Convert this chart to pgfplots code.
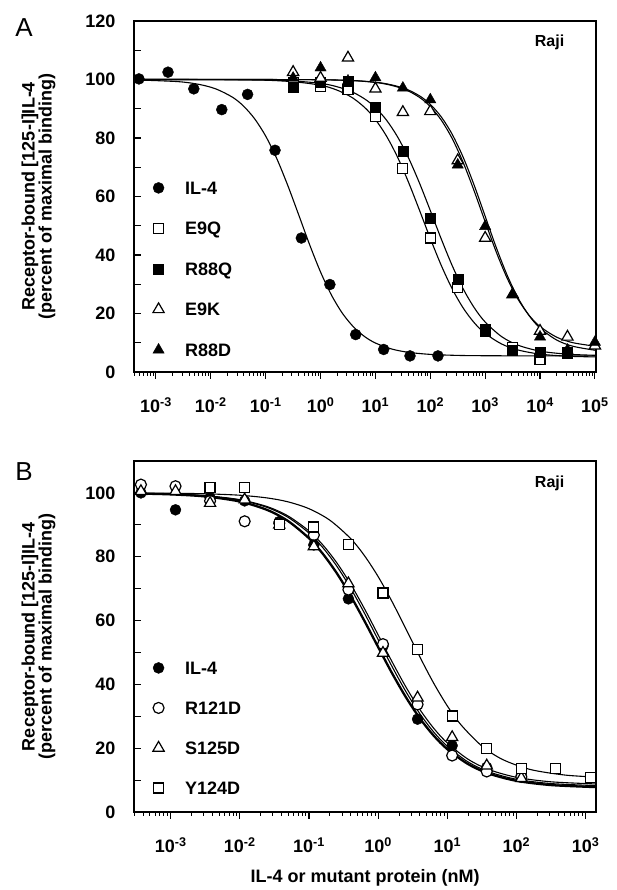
\documentclass[border=0pt]{standalone}
\usepackage{fontspec}
\setmainfont{Liberation Sans}
\usepackage{pgfplots}
\pgfplotsset{compat=1.18}

\newcommand{\lab}{\fontsize{18}{17}\selectfont\bfseries}

\pgfplotsset{
  panel/.style={
    scale only axis, width=462pt, height=351pt, anchor=south west,
    clip=false,
    axis line style={line width=1.3pt},
    xtick pos=bottom, ytick pos=left,
    xtick align=outside, ytick align=inside,
    major tick length=7pt, minor tick length=4pt,
    every tick/.style={black, line width=1.1pt},
    every minor tick/.style={black, line width=0.9pt},
    tick label style={font=\lab},
    yticklabel style={xshift=-15pt},
    xticklabel style={yshift=-15pt},
    minor xtick={-3.699,-3.523,-3.398,-3.301,-3.222,-3.155,-3.097,-3.046,
      -2.699,-2.523,-2.398,-2.301,-2.222,-2.155,-2.097,-2.046,
      -1.699,-1.523,-1.398,-1.301,-1.222,-1.155,-1.097,-1.046,
      -0.699,-0.523,-0.398,-0.301,-0.222,-0.155,-0.097,-0.046,
      0.301,0.477,0.602,0.699,0.778,0.845,0.903,0.954,
      1.301,1.477,1.602,1.699,1.778,1.845,1.903,1.954,
      2.301,2.477,2.602,2.699,2.778,2.845,2.903,2.954,
      3.301,3.477,3.602,3.699,3.778,3.845,3.903,3.954,
      4.301,4.477,4.602,4.699,4.778,4.845,4.903,4.954},
    ylabel={Receptor-bound [125-I]IL-4\\(percent of maximal binding)},
    ylabel style={align=center, font=\lab, at={(axis description cs:-0.2067,0.5)}, anchor=center},
    legend cell align=left,
    legend style={draw=none, fill=none, inner sep=0pt, outer sep=0pt, font=\lab,
      nodes={inner sep=0pt, text height=13pt, text depth=0pt},
      /tikz/every odd column/.append style={column sep=21pt}},
  },
  curve/.style={black, line width=1.1pt, smooth, no markers, forget plot},
  fcirc/.style={only marks, mark=*, mark size=5.5pt, mark options={draw=black, fill=black}},
  ocirc/.style={only marks, mark=*, mark size=5.5pt, mark options={draw=black, fill=white, line width=1.2pt}},
  fsq/.style={only marks, mark=square*, mark size=5pt, mark options={draw=black, fill=black}},
  osq/.style={only marks, mark=square*, mark size=5pt, mark options={draw=black, fill=white, line width=1.2pt}},
  ftri/.style={only marks, mark=triangle*, mark size=6.5pt, mark options={draw=black, fill=black}},
  otri/.style={only marks, mark=triangle*, mark size=6.5pt, mark options={draw=black, fill=white, line width=1.2pt}},
}

\begin{document}
\begin{tikzpicture}
\useasboundingbox (0,0) rectangle (617pt,890pt);

% ---------------- panel A
\begin{axis}[panel, at={(134pt,518pt)},
  xmin=-3.40, xmax=5.02, ymin=0, ymax=120,
  xtick={-3,-2,-1,0,1,2,3,4,5},
  xticklabels={10\textsuperscript{-3},10\textsuperscript{-2},10\textsuperscript{-1},10\textsuperscript{0},10\textsuperscript{1},10\textsuperscript{2},10\textsuperscript{3},10\textsuperscript{4},10\textsuperscript{5}},
  ytick={0,10,...,120},
  yticklabels={0,,20,,40,,60,,80,,100,,120},
  legend style={at={(0.041,0.543)}, anchor=north west, row sep=27.5pt},
]
% fitted curves
\addplot[curve] coordinates {(-3.40,99.87) (-2.6,99.27) (-2.2,98.27) (-1.9,96.72) (-1.6,93.88) (-1.4,90.84) (-1.2,86.53) (-1.0,80.65) (-0.8,73.05) (-0.6,63.9) (-0.4,53.8) (-0.2,43.56) (0.0,34.17) (0.2,26.24) (0.4,20.02) (0.6,15.42) (0.8,12.15) (1.0,9.9) (1.3,7.84) (1.6,6.73) (2.0,6.02) (2.5,5.67) (3.0,5.56) (4.0,5.5) (5.02,5.5)};
\addplot[curve] coordinates {(-3.40,100) (-1.0,99.75) (0.0,98.03) (0.5,94.65) (0.8,90.5) (1.0,86.3) (1.2,80.7) (1.4,73.57) (1.6,65.0) (1.8,55.45) (2.0,45.65) (2.2,36.43) (2.4,28.39) (2.6,21.86) (2.8,16.85) (3.0,13.17) (3.3,9.57) (3.6,7.52) (4.0,6.11) (4.5,5.4) (5.02,5.14)};
\addplot[curve] coordinates {(-3.40,100) (-1.0,99.83) (0.0,98.67) (0.5,96.34) (0.8,93.4) (1.0,90.37) (1.2,86.15) (1.4,80.5) (1.6,73.31) (1.8,64.72) (2.0,55.2) (2.2,45.46) (2.4,36.33) (2.6,28.4) (2.8,21.99) (3.0,17.08) (3.3,12.09) (3.6,9.16) (4.0,7.13) (4.5,6.09) (5.02,5.7)};
\addplot[curve] coordinates {(-3.40,100) (0.0,99.9) (1.0,98.98) (1.5,96.85) (1.8,93.92) (2.0,90.72) (2.2,86.11) (2.4,79.77) (2.6,71.59) (2.8,61.86) (3.0,51.36) (3.2,41.12) (3.4,32.1) (3.6,24.83) (3.8,19.39) (4.0,15.53) (4.3,11.93) (4.6,10.01) (5.02,8.78)};
\addplot[curve] coordinates {(-3.40,100) (0.0,99.91) (1.0,99.07) (1.5,97.13) (1.8,94.45) (2.0,91.5) (2.2,87.21) (2.4,81.23) (2.6,73.38) (2.8,63.83) (3.0,53.25) (3.2,42.67) (3.4,33.12) (3.6,25.27) (3.8,19.29) (4.0,15.0) (4.3,10.96) (4.6,8.79) (5.02,7.38)};
% measured points
\addplot[fcirc] coordinates {(-3.31,100.2) (-2.78,102.5) (-2.31,96.8) (-1.80,89.7) (-1.33,94.9) (-0.83,75.8) (-0.35,45.8) (0.17,29.9) (0.64,12.8) (1.15,7.7) (1.63,5.5) (2.14,5.5)};
\addlegendentry{IL-4}
\addplot[osq] coordinates {(-0.5,99) (0,97.5) (0.5,96.6) (1.0,87.4) (1.5,69.6) (2.0,45.8) (2.5,28.8) (3.0,14.0) (3.5,8.3) (4.0,4.3) (4.5,6.5)};
\addlegendentry{E9Q}
\addplot[fsq] coordinates {(-0.5,97.5) (0,99) (0.5,99.4) (1.0,90.6) (1.5,75.5) (2.0,52.6) (2.5,31.8) (3.0,14.5) (3.5,7.4) (4.0,6.8) (4.5,6.4)};
\addlegendentry{R88Q}
\addplot[otri] coordinates {(-0.5,102.5) (0,100.5) (0.5,107.4) (1.0,96.8) (1.5,88.8) (2.0,89.1) (2.5,72.3) (3.0,45.8) (3.5,26.5) (4.0,14.0) (4.5,12.0) (5.0,9.0)};
\addlegendentry{E9K}
\addplot[ftri] coordinates {(-0.5,100.5) (0,104) (0.5,99.5) (1.0,100.6) (1.5,97.1) (2.0,93.1) (2.5,70.8) (3.0,49.8) (3.5,26.5) (4.0,12.0) (4.5,7.5) (5.0,10.2)};
\addlegendentry{R88D}
\node[anchor=east, font=\fontsize{16}{16}\selectfont\bfseries] at (axis description cs:0.939,0.940) {Raji};
\node[font=\fontsize{26}{26}\selectfont] at (axis description cs:-0.238,0.981) {A};
\end{axis}

% ---------------- panel B
\begin{axis}[panel, at={(134pt,78pt)},
  xmin=-3.53, xmax=3.15, ymin=0, ymax=110,
  xtick={-3,-2,-1,0,1,2,3},
  xticklabels={10\textsuperscript{-3},10\textsuperscript{-2},10\textsuperscript{-1},10\textsuperscript{0},10\textsuperscript{1},10\textsuperscript{2},10\textsuperscript{3}},
  ytick={0,10,...,100},
  yticklabels={0,,20,,40,,60,,80,,100},
  xlabel={IL-4 or mutant protein (nM)},
  xlabel style={font=\lab, at={(axis description cs:0.5,-0.188)}, anchor=center},
  legend style={at={(0.041,0.429)}, anchor=north west, row sep=27pt},
]
\addplot[curve, line width=2.3pt] coordinates {(-3.53,99.82) (-3.0,99.54) (-2.5,98.88) (-2.0,97.3) (-1.6,94.62) (-1.3,91.14) (-1.0,85.78) (-0.8,80.92) (-0.6,74.9) (-0.4,67.83) (-0.2,59.95) (0.0,51.68) (0.2,43.54) (0.4,36.02) (0.6,29.45) (0.8,24.01) (1.0,19.68) (1.3,15.02) (1.6,12.04) (2.0,9.77) (2.5,8.44) (3.15,7.8)};
\addplot[curve] coordinates {(-3.53,99.86) (-3.0,99.63) (-2.5,99.09) (-2.0,97.75) (-1.6,95.41) (-1.3,92.31) (-1.0,87.42) (-0.8,82.85) (-0.6,77.12) (-0.4,70.22) (-0.2,62.38) (0.0,54.0) (0.2,45.63) (0.4,37.78) (0.6,30.89) (0.8,25.15) (1.0,20.59) (1.3,15.69) (1.6,12.59) (2.0,10.25) (2.5,8.91) (3.15,8.28)};
\addplot[curve] coordinates {(-3.53,99.87) (-3.0,99.66) (-2.5,99.14) (-2.0,97.88) (-1.6,95.67) (-1.3,92.73) (-1.0,88.07) (-0.8,83.7) (-0.6,78.17) (-0.4,71.48) (-0.2,63.79) (0.0,55.51) (0.2,47.14) (0.4,39.24) (0.6,32.22) (0.8,26.34) (1.0,21.63) (1.3,16.54) (1.6,13.31) (2.0,10.87) (2.5,9.46) (3.15,8.79)};
\addplot[curve] coordinates {(-3.53,99.96) (-3.0,99.9) (-2.5,99.72) (-2.0,99.27) (-1.6,98.41) (-1.3,97.18) (-1.0,95.05) (-0.7,91.47) (-0.4,85.74) (-0.2,80.4) (0.0,73.77) (0.2,65.98) (0.4,57.43) (0.6,48.73) (0.8,40.49) (1.0,33.25) (1.2,27.26) (1.5,20.67) (1.8,16.45) (2.2,13.32) (2.7,11.58) (3.15,10.95)};
\addplot[fcirc] coordinates {(-3.43,100) (-2.93,94.7) (-2.43,98.5) (-1.93,97.5) (-1.43,91) (-0.93,83.7) (-0.43,66.8) (0.07,52) (0.57,29.1) (1.07,20.8) (1.57,14) (2.07,11.5)};
\addlegendentry{IL-4}
\addplot[ocirc] coordinates {(-3.43,102.6) (-2.93,102.1) (-2.43,97.5) (-1.93,91.1) (-1.43,90.5) (-0.93,86.8) (-0.43,69.7) (0.07,52.6) (0.57,33.7) (1.07,17.7) (1.57,12.7) (2.07,11)};
\addlegendentry{R121D}
\addplot[otri] coordinates {(-3.43,100.5) (-2.93,100.5) (-2.43,96.8) (-1.93,97.9) (-1.43,90) (-0.93,83.2) (-0.43,71.6) (0.07,49.8) (0.57,35.8) (1.07,23.4) (1.57,14.5) (2.07,10.6)};
\addlegendentry{S125D}
\addplot[osq] coordinates {(-2.43,101.6) (-1.93,101.6) (-1.43,90) (-0.93,89.3) (-0.43,83.9) (0.07,68.6) (0.57,50.9) (1.07,30.1) (1.57,19.9) (2.07,13.7) (2.57,13.7) (3.07,10.9)};
\addlegendentry{Y124D}
\node[anchor=east, font=\fontsize{16}{16}\selectfont\bfseries] at (axis description cs:0.939,0.937) {Raji};
\node[font=\fontsize{26}{26}\selectfont] at (axis description cs:-0.238,0.969) {B};
\end{axis}
\end{tikzpicture}
\end{document}
